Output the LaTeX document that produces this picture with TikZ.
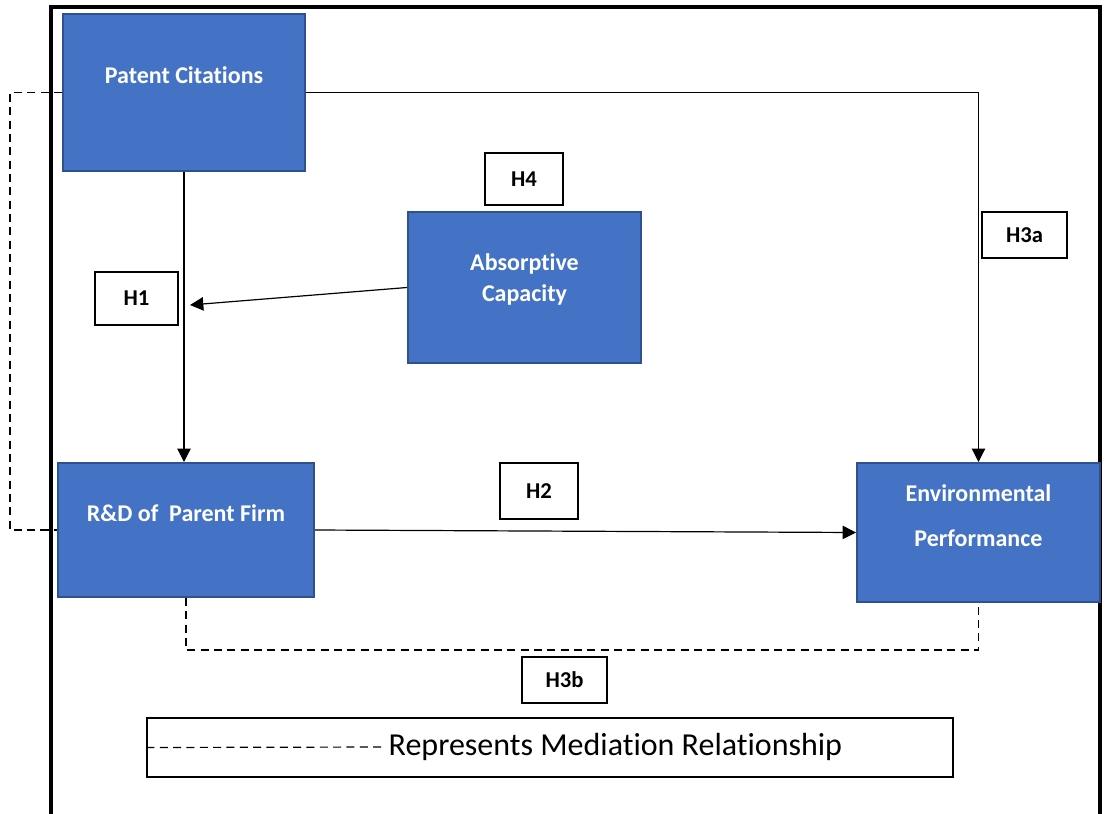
\documentclass[tikz,border=0pt]{standalone}
\usepackage{fontspec}
\setmainfont{Carlito}[RawFeature={-liga;-clig;-calt;-dlig}]
\usepackage{tikz}
\usetikzlibrary{arrows.meta,positioning}
\definecolor{varfill}{RGB}{68,114,196}
\definecolor{varline}{RGB}{47,82,143}

\begin{document}
\begin{tikzpicture}[x=0.75pt, y=-0.75pt, >={Triangle[length=10pt,width=10pt]},
  var/.style={draw=varline, line width=1.5pt, fill=varfill, text=white, align=center,
    inner sep=0pt, font=\fontsize{18}{23}\selectfont\bfseries},
  hyp/.style={draw, line width=0.8pt, fill=white, inner sep=0pt,
    font=\fontsize{17}{20}\selectfont\bfseries},
  link/.style={line width=0.9pt},
  med/.style={line width=0.9pt, dash pattern=on 6pt off 4pt}]
  \useasboundingbox (0,0) rectangle (1107,814);
  \draw[line width=3pt] (51,814) -- (51,7) -- (1100,7) -- (1100,814);
  % constructs
  \node[var, minimum width=181.5pt, minimum height=117.75pt, text depth=26pt] (pc) at (184,92.5) {Patent Citations};
  \node[var, minimum width=174.75pt, minimum height=113.25pt, text depth=14.5pt] (ac) at (524.5,287.5) {Absorptive\\Capacity};
  \node[var, minimum width=192pt, minimum height=100.5pt, text depth=26pt] (rd) at (186,530) {R\&D of\ \ Parent Firm};
  \node[var, minimum width=182.25pt, minimum height=104.25pt, text depth=25pt] (ep) at (978.5,532.5) {Environmental\\[11pt]Performance};
  % hypotheses
  \node[hyp, minimum width=58.5pt, minimum height=39pt] (h4) at (524,179) {H4};
  \node[hyp, minimum width=62.25pt, minimum height=39.75pt] (h1) at (136.5,298.5) {H1};
  \node[hyp, minimum width=63.75pt, minimum height=34.5pt] (h3a) at (1024.5,235) {H3a};
  \node[hyp, minimum width=58.5pt, minimum height=42pt] (h2) at (539,491) {H2};
  \node[hyp, minimum width=63.75pt, minimum height=34.5pt] (h3b) at (564.5,680) {H3b};
  % legend
  \node[draw, line width=0.8pt, minimum width=604.5pt, minimum height=44.25pt] (legend) at (550,747.5) {};
  \node[anchor=west, font=\fontsize{24}{28}\selectfont] (legtext) at (384,747) {Represents Mediation Relationship};
  \draw[med] (legend.west) -- (legtext.west);
  % paths
  \coordinate (h1end) at (190,305);
  \coordinate (lft) at (10,0);
  \coordinate (bot) at (0,650);
  \draw[link,->] (pc.south) -- (pc.south |- rd.north);
  \draw[link,->] (ac.west) -- (h1end);
  \draw[link,->] (pc.east) -| (ep.north);
  \draw[link,->] (rd.east) -- (ep.west);
  \draw[med] (pc.west) -| (lft |- rd.west) -- (rd.west);
  \draw[med] (rd.south) -- (rd.south |- bot) -| (ep.south);
\end{tikzpicture}
\end{document}
